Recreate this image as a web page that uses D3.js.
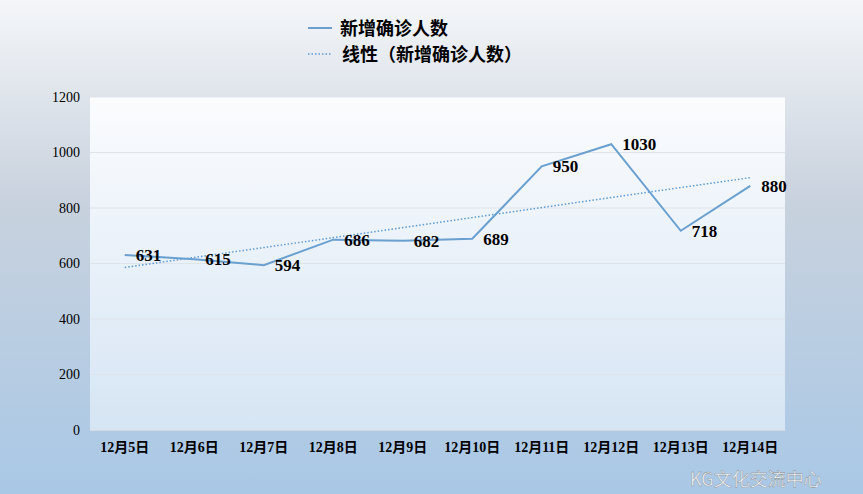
<!DOCTYPE html><html><head><meta charset="utf-8"><script src="https://cdn.jsdelivr.net/npm/d3@7"></script>
<style>body{margin:0}</style></head><body><svg id="c" width="863" height="494"></svg><script>
const categories=["12月5日","12月6日","12月7日","12月8日","12月9日","12月10日","12月11日","12月12日","12月13日","12月14日"];
const values=[631,615,594,686,682,689,950,1030,718,880];
const yTicks=[0,200,400,600,800,1000,1200];
const svg=d3.select("#c");
const defs=svg.append("defs");
const bg=defs.append("linearGradient").attr("id","bg").attr("x1",0).attr("y1",0).attr("x2",0).attr("y2",1);
bg.append("stop").attr("offset","0%").attr("stop-color","#f4f6f9");
bg.append("stop").attr("offset","40%").attr("stop-color","#c9d2de");
bg.append("stop").attr("offset","100%").attr("stop-color","#a9c8e6");
const pg=defs.append("linearGradient").attr("id","pg").attr("x1",0).attr("y1",0).attr("x2",0).attr("y2",1);
pg.append("stop").attr("offset","0%").attr("stop-color","#fbfcfe");
pg.append("stop").attr("offset","100%").attr("stop-color","#d6e5f4");
svg.append("rect").attr("width",863).attr("height",494).attr("fill","url(#bg)");
const L=90,R=785,T=97,B=430;
svg.append("rect").attr("x",L).attr("y",T).attr("width",R-L).attr("height",B-T).attr("fill","url(#pg)");
const x=d3.scaleBand().domain(categories).range([L,R]);
const y=d3.scaleLinear().domain([0,1200]).range([B,T]);
const cx=d=>x(d)+x.bandwidth()/2;
svg.append("g").selectAll("line").data(yTicks).join("line").attr("x1",L).attr("x2",R).attr("y1",d=>y(d)).attr("y2",d=>y(d)).attr("stroke","#dfe3ea").attr("stroke-width",1);
const font="'Liberation Serif','Noto Sans CJK SC',serif";
const ya=svg.append("g").attr("transform",`translate(${L},0)`).call(d3.axisLeft(y).tickValues(yTicks).tickFormat(d3.format("d")).tickSize(0).tickPadding(10));
ya.select(".domain").remove();
ya.selectAll("text").attr("font-family",font).attr("font-size",14).attr("fill","#000");
const xa=svg.append("g").attr("transform",`translate(0,${B})`).call(d3.axisBottom(x).tickSize(0).tickPadding(12));
xa.select(".domain").attr("stroke","#d0d8e2");
xa.selectAll("text").attr("font-family",font).attr("font-size",14).attr("font-weight","bold").attr("fill","#000");
const n=values.length,mx=(n-1)/2,my=d3.mean(values);
let sxy=0,sxx=0;values.forEach((v,i)=>{sxy+=(i-mx)*(v-my);sxx+=(i-mx)*(i-mx);});
const sl=sxy/sxx,ic=my-sl*mx;
svg.append("line").attr("x1",cx(categories[0])).attr("x2",cx(categories[n-1])).attr("y1",y(ic)).attr("y2",y(ic+sl*(n-1))).attr("stroke","#5b9bd5").attr("stroke-width",1.5).attr("stroke-dasharray","1.5,2");
svg.append("path").datum(values).attr("fill","none").attr("stroke","#6aa0cf").attr("stroke-width",2)
 .attr("d",d3.line().x((d,i)=>cx(categories[i])).y(d=>y(d)));
svg.append("g").selectAll("text").data(values).join("text").attr("x",(d,i)=>cx(categories[i])+11).attr("y",d=>y(d)+6)
 .attr("font-family",font).attr("font-size",17).attr("font-weight","bold").attr("fill","#000").text(d=>d);
svg.append("line").attr("x1",308).attr("x2",332).attr("y1",28).attr("y2",28).attr("stroke","#6aa0cf").attr("stroke-width",2);
svg.append("line").attr("x1",308).attr("x2",332).attr("y1",54).attr("y2",54).attr("stroke","#5b9bd5").attr("stroke-width",1.5).attr("stroke-dasharray","1.5,2");
svg.append("text").attr("x",340).attr("y",35).attr("font-family",font).attr("font-size",18).attr("font-weight","bold").text("新增确诊人数");
svg.append("text").attr("x",342).attr("y",61).attr("font-family",font).attr("font-size",18).attr("font-weight","bold").text("线性（新增确诊人数）");
svg.append("text").attr("x",690).attr("y",486).attr("font-family","'Noto Sans CJK SC',sans-serif").attr("font-size",18).attr("fill","#fff").attr("fill-opacity",0.85).attr("stroke","#888").attr("stroke-width",0.4).text("KG文化交流中心");
</script></body></html>
